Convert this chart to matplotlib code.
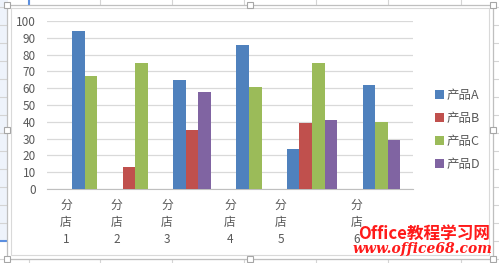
import matplotlib
matplotlib.use("Agg")
import matplotlib.pyplot as plt
from matplotlib.patches import Rectangle

plt.rcParams["font.family"] = ["Noto Sans CJK SC", "DejaVu Sans"]

stores = ["分店1", "分店2", "分店3", "分店4", "分店5", "分店6"]
products = ["产品A", "产品B", "产品C", "产品D"]
prod_a = [94, None, 65, 86, 24, 62]
prod_b = [None, 13, 35, None, 39, None]
prod_c = [67, 75, None, 61, 75, 40]
prod_d = [None, None, 58, None, 41, 29]
colors = ["#4F81BD", "#C0504D", "#9BBB59", "#8064A2"]
y_ticks = list(range(0, 101, 10))

W, H = 499, 263
fig = plt.figure(figsize=(W / 100, H / 100), dpi=100)

# spreadsheet background, pixel coordinates
bg = fig.add_axes([0, 0, 1, 1], zorder=0)
bg.set_xlim(0, W)
bg.set_ylim(H, 0)
bg.axis("off")
bg.add_patch(Rectangle((0, 0), 8, 241, color="#EEF3FB", lw=0))
for x in [29, 100, 172, 244, 316, 388, 461]:
    bg.plot([x, x], [0, H], color="#D4D4D4", lw=0.8)
for y in range(7, H, 18):
    bg.plot([0, W], [y, y], color="#D4D4D4", lw=0.8)
bg.plot([0, 8], [241, 241], color="#5B8FE0", lw=1.5)
bg.plot([29, 29], [0, 5], color="#5B8FE0", lw=1.5)
bg.add_patch(Rectangle((7.5, 4.5), 485.5, 254, facecolor="white",
                       edgecolor="#BFBFBF", lw=0.9, zorder=3))
bg.add_patch(Rectangle((11, 8), 478.5, 247, facecolor="none",
                       edgecolor="#D9D9D9", lw=0.8, zorder=3))
for hx, hy in [(7.5, 4.5), (250, 4.5), (493, 4.5), (7.5, 130), (493, 130),
               (7.5, 258.5), (250, 258.5), (493, 258.5)]:
    bg.add_patch(Rectangle((hx - 3, hy - 3), 6, 6, facecolor="white",
                           edgecolor="#A6A6A6", lw=0.8, zorder=4))

# chart
ax = fig.add_axes([47 / W, 1 - 189 / H, 366 / W, 168 / H], zorder=2)
ax.patch.set_alpha(0)

series = [prod_a, prod_b, prod_c, prod_d]
label_pos = []
slot = 2
seen = set()
for i, store in enumerate(stores):
    label_pos.append(slot - 0.5)
    for j, vals in enumerate(series):
        v = vals[i]
        if v is None:
            continue
        lab = products[j] if j not in seen else None
        seen.add(j)
        ax.bar(slot + 0.5, v, width=1.0, color=colors[j], label=lab, zorder=3)
        slot += 1
    slot += 2

ax.set_xlim(0, slot - 1)
ax.set_ylim(0, 100)
ax.set_yticks(y_ticks)
ax.grid(axis="y", color="#D9D9D9", lw=0.9, zorder=0)
for s in ["top", "right", "left"]:
    ax.spines[s].set_visible(False)
ax.spines["bottom"].set_color("#BFBFBF")
ax.tick_params(axis="y", length=0, pad=8, labelsize=8.5, labelcolor="#595959")
ax.set_xticks(label_pos)
ax.set_xticklabels(["\n".join(s) for s in stores], fontsize=8.5,
                   color="#595959", linespacing=1.42, va="top")
ax.tick_params(axis="x", length=0, pad=7)

handles, labels = ax.get_legend_handles_labels()
order = [labels.index(p) for p in products]
leg = fig.legend([handles[k] for k in order], [labels[k] for k in order],
                 loc="center left", bbox_to_anchor=(0.85, 0.506),
                 frameon=False, fontsize=9, handlelength=0.7, handleheight=0.7,
                 handletextpad=0.2, labelspacing=0.8)
for t in leg.get_texts():
    t.set_color("#595959")

# watermark
fig.text(424 / W, 1 - 234 / H, "Office教程学习网", color="#FF1A1A", fontsize=12,
         fontweight="bold", style="italic", ha="center", va="center", zorder=10)
fig.text(423 / W, 1 - 249 / H, "www.office68.com", color="#FF1A1A", fontsize=10,
         fontweight="bold", style="italic", family="DejaVu Serif",
         ha="center", va="center", zorder=10)

fig.savefig("out.png", dpi=100)
